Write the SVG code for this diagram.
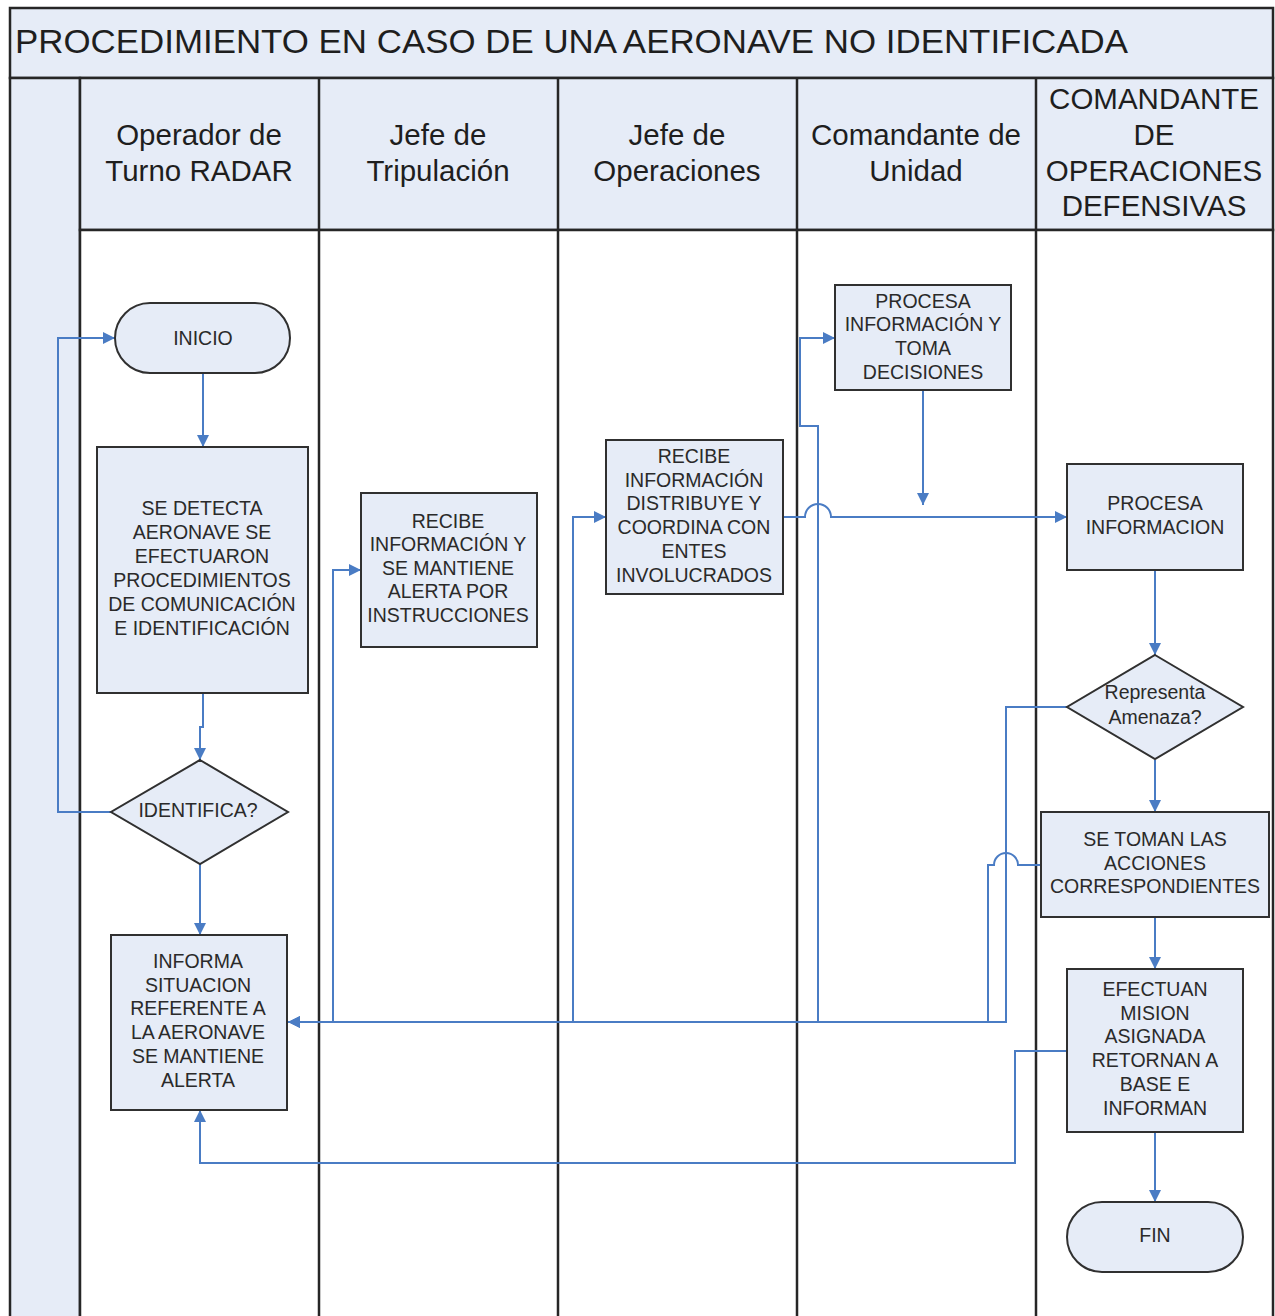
<svg xmlns="http://www.w3.org/2000/svg" width="1275" height="1316" viewBox="0 0 1275 1316">
<style>
.lane{fill:#e6ecf7;stroke:#262626;stroke-width:2.5}
.body{fill:#ffffff;stroke:#262626;stroke-width:2.5}
.box{fill:#e6ecf7;stroke:#303030;stroke-width:2}
.hdr{font-family:"Liberation Sans",Arial,sans-serif;font-size:29.5px;fill:#1e1e1e;text-anchor:middle}
.ttl{font-family:"Liberation Sans",Arial,sans-serif;font-size:34px;fill:#1e1e1e}
.t{font-family:"Liberation Sans",Arial,sans-serif;font-size:19.5px;fill:#2a2a2a;text-anchor:middle}
.c{fill:none;stroke:#4a7cc4;stroke-width:2}
</style>
<defs>
<marker id="arr" viewBox="0 0 10 10" refX="10" refY="5" markerWidth="13" markerHeight="12" markerUnits="userSpaceOnUse" orient="auto">
<path d="M0,0 L10,5 L0,10 z" fill="#4a7cc4"/>
</marker>
</defs>
<rect width="1275" height="1316" fill="#ffffff"/>
<g id="swimlanes">
<rect class="lane" x="10" y="8" width="1263" height="70"/>
<text class="ttl" x="15" y="53" textLength="1113" lengthAdjust="spacingAndGlyphs">PROCEDIMIENTO EN CASO DE UNA AERONAVE NO IDENTIFICADA</text>
<rect class="lane" x="10" y="78" width="70" height="1250"/>
<rect class="lane" x="80" y="78" width="1193" height="152"/>
<rect class="body" x="80" y="230" width="1193" height="1100"/>
<line x1="319" y1="78" x2="319" y2="1316" stroke="#262626" stroke-width="2.5"/>
<line x1="558" y1="78" x2="558" y2="1316" stroke="#262626" stroke-width="2.5"/>
<line x1="797" y1="78" x2="797" y2="1316" stroke="#262626" stroke-width="2.5"/>
<line x1="1036" y1="78" x2="1036" y2="1316" stroke="#262626" stroke-width="2.5"/>
<text class="hdr" x="199" y="145">Operador de</text>
<text class="hdr" x="199" y="181">Turno RADAR</text>
<text class="hdr" x="438" y="145">Jefe de</text>
<text class="hdr" x="438" y="181">Tripulación</text>
<text class="hdr" x="677" y="145">Jefe de</text>
<text class="hdr" x="677" y="181">Operaciones</text>
<text class="hdr" x="916" y="145">Comandante de</text>
<text class="hdr" x="916" y="181">Unidad</text>
<text class="hdr" x="1154" y="109">COMANDANTE</text>
<text class="hdr" x="1154" y="145">DE</text>
<text class="hdr" x="1154" y="181">OPERACIONES</text>
<text class="hdr" x="1154" y="216">DEFENSIVAS</text>
</g>
<g id="connectors">
<path class="c" d="M203,373 V447" marker-end="url(#arr)"/>
<path class="c" d="M203,693 V727 H200 V760" marker-end="url(#arr)"/>
<path class="c" d="M111,812 H58 V338 H115" marker-end="url(#arr)"/>
<path class="c" d="M200,864 V935" marker-end="url(#arr)"/>
<path class="c" d="M288,1022 H333 V570 H361" marker-end="url(#arr)"/>
<path class="c" d="M288,1022 H573 V517 H606" marker-end="url(#arr)"/>
<path class="c" d="M288,1022 H818 V426 H800 V338 H835" marker-end="url(#arr)"/>
<path class="c" d="M783,517 H805 A13,13 0 0 1 831,517 H1067" marker-end="url(#arr)"/>
<path class="c" d="M923,391 V505" marker-end="url(#arr)"/>
<path class="c" d="M1155,570 V655" marker-end="url(#arr)"/>
<path class="c" d="M1067,707 H1006 V1022 H288" marker-end="url(#arr)"/>
<path class="c" d="M1155,760 V812" marker-end="url(#arr)"/>
<path class="c" d="M1041,865 H1018 A12,12 0 0 0 994,865 H988 V1022 H288" marker-end="url(#arr)"/>
<path class="c" d="M1155,918 V969" marker-end="url(#arr)"/>
<path class="c" d="M1067,1051 H1015 V1163 H200 V1110" marker-end="url(#arr)"/>
<path class="c" d="M1155,1132 V1202" marker-end="url(#arr)"/>
</g>
<g id="inicio">
<rect class="box" x="115" y="303" width="175" height="70" rx="35"/>
<text class="t" x="203" y="345">INICIO</text>
</g>
<g id="detecta">
<rect class="box" x="97" y="447" width="211" height="246"/>
<text class="t" x="202" y="515">SE DETECTA</text>
<text class="t" x="202" y="539">AERONAVE SE</text>
<text class="t" x="202" y="563">EFECTUARON</text>
<text class="t" x="202" y="587">PROCEDIMIENTOS</text>
<text class="t" x="202" y="611">DE COMUNICACIÓN</text>
<text class="t" x="202" y="635">E IDENTIFICACIÓN</text>
</g>
<g id="identifica">
<polygon class="box" points="200,760 288,812 200,864 111,812"/>
<text class="t" x="198" y="817">IDENTIFICA?</text>
</g>
<g id="informa">
<rect class="box" x="111" y="935" width="176" height="175"/>
<text class="t" x="198" y="968">INFORMA</text>
<text class="t" x="198" y="992">SITUACION</text>
<text class="t" x="198" y="1015">REFERENTE A</text>
<text class="t" x="198" y="1039">LA AERONAVE</text>
<text class="t" x="198" y="1063">SE MANTIENE</text>
<text class="t" x="198" y="1087">ALERTA</text>
</g>
<g id="recibe-jt">
<rect class="box" x="361" y="493" width="176" height="154"/>
<text class="t" x="448" y="528">RECIBE</text>
<text class="t" x="448" y="551">INFORMACIÓN Y</text>
<text class="t" x="448" y="575">SE MANTIENE</text>
<text class="t" x="448" y="598">ALERTA POR</text>
<text class="t" x="448" y="622">INSTRUCCIONES</text>
</g>
<g id="recibe-jo">
<rect class="box" x="606" y="440" width="177" height="154"/>
<text class="t" x="694" y="463">RECIBE</text>
<text class="t" x="694" y="487">INFORMACIÓN</text>
<text class="t" x="694" y="510">DISTRIBUYE Y</text>
<text class="t" x="694" y="534">COORDINA CON</text>
<text class="t" x="694" y="558">ENTES</text>
<text class="t" x="694" y="582">INVOLUCRADOS</text>
</g>
<g id="procesa-toma">
<rect class="box" x="835" y="285" width="176" height="105"/>
<text class="t" x="923" y="308">PROCESA</text>
<text class="t" x="923" y="331">INFORMACIÓN Y</text>
<text class="t" x="923" y="355">TOMA</text>
<text class="t" x="923" y="379">DECISIONES</text>
</g>
<g id="procesa-info">
<rect class="box" x="1067" y="464" width="176" height="106"/>
<text class="t" x="1155" y="510">PROCESA</text>
<text class="t" x="1155" y="534">INFORMACION</text>
</g>
<g id="amenaza">
<polygon class="box" points="1155,655 1243,707 1155,759 1067,707"/>
<text class="t" x="1155" y="699">Representa</text>
<text class="t" x="1155" y="724">Amenaza?</text>
</g>
<g id="acciones">
<rect class="box" x="1041" y="812" width="228" height="105"/>
<text class="t" x="1155" y="846">SE TOMAN LAS</text>
<text class="t" x="1155" y="870">ACCIONES</text>
<text class="t" x="1155" y="893">CORRESPONDIENTES</text>
</g>
<g id="efectuan">
<rect class="box" x="1067" y="969" width="176" height="163"/>
<text class="t" x="1155" y="996">EFECTUAN</text>
<text class="t" x="1155" y="1020">MISION</text>
<text class="t" x="1155" y="1043">ASIGNADA</text>
<text class="t" x="1155" y="1067">RETORNAN A</text>
<text class="t" x="1155" y="1091">BASE E</text>
<text class="t" x="1155" y="1115">INFORMAN</text>
</g>
<g id="fin">
<rect class="box" x="1067" y="1202" width="176" height="70" rx="35"/>
<text class="t" x="1155" y="1242">FIN</text>
</g>
</svg>
